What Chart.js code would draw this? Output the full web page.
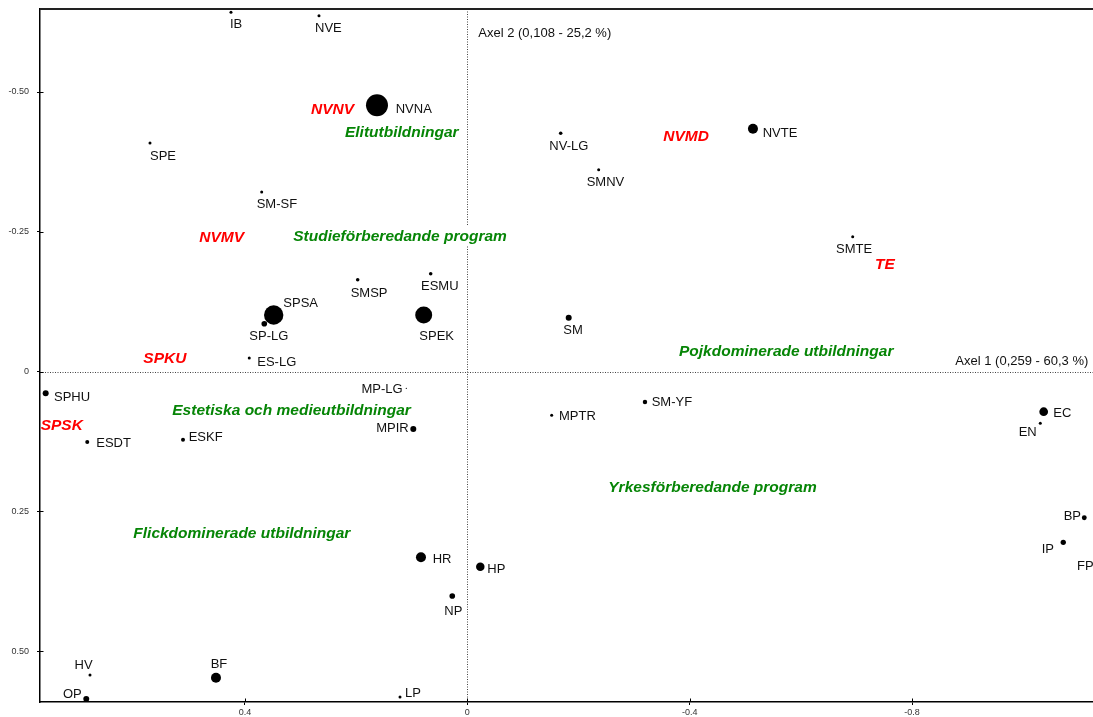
<!DOCTYPE html>
<html><head><meta charset="utf-8">
<script src="https://cdn.jsdelivr.net/npm/chart.js@4"></script>
<style>html,body{margin:0;padding:0;background:#fff;overflow:hidden}</style>
</head><body>
<canvas id="c" width="1093" height="717"></canvas>
<script>
// ---- data ----
const names  = ['IB','NVE','NVNA','SPE','SM-SF','SPSA','SP-LG','SMSP','ESMU','SPEK','ES-LG','SPHU','ESDT','ESKF','MP-LG','MPIR',
                'NV-LG','SMNV','NVTE','SMTE','SM','SM-YF','MPTR','EC','EN','BP','IP','FP','HR','HP','NP','HV','BF','OP','LP'];
const axis1  = [0.425,0.2667,0.1624,0.5707,0.3698,0.3482,0.3651,0.1971,0.0658,0.0784,0.3921,0.7583,0.6835,0.5113,0.1097,0.0971,
                -0.168,-0.2363,-0.5138,-0.6932,-0.1824,-0.3196,-0.1518,-1.0367,-1.0306,-1.1097,-1.0719,-1.1326,0.0833,-0.0234,0.027,0.6786,0.452,0.6853,0.121];
const axis2  = [-0.6426,-0.6365,-0.4762,-0.4088,-0.3211,-0.1011,-0.0855,-0.1642,-0.175,-0.1011,-0.0242,0.039,0.1261,0.122,0.030,0.1029,
                -0.4261,-0.361,-0.4343,-0.2411,-0.0962,0.0546,0.0784,0.0719,0.0927,0.2615,0.3055,0.3318,0.3324,0.3492,0.4016,0.5429,0.5478,0.5859,0.5823];
const masses = [2.25,2.25,121,2.25,2.25,94,8,3.2,3.2,72,2.25,9,4,4,0.4,9,
                3.2,2.25,25,2.25,9,5,2.25,19,2.25,6,7,7,25,18,8,2.25,25,9,2.25];

const xTicks = [0.4, 0, -0.4, -0.8];
const xTickLabels = ['0.4','0','-0.4','-0.8'];
const yTicks = [-0.5, -0.25, 0, 0.25, 0.5];
const yTickLabels = ['-0.50','-0.25','0','0.25','0.50'];

const groupNames = ['Elitutbildningar','Studieförberedande program','Pojkdominerade utbildningar','Estetiska och medieutbildningar',
                    'Flickdominerade utbildningar','Yrkesförberedande program','NVNV','NVMV','SPKU','SPSK','NVMD','TE'];
const groupX = [0.22,0.313,-0.3808,0.5306,0.6007,-0.2536,0.2811,0.482,0.5827,0.7673,-0.3525,-0.7333];
const groupY = [-0.4293,-0.2429,-0.0372,0.0671,0.2877,0.2061,-0.4708,-0.2411,-0.0247,0.0952,-0.4231,-0.1936];
const groupKind = ['type','type','type','type','type','type','prog','prog','prog','prog','prog','prog'];

const axisTitles = ['Axel 1 (0,259 - 60,3 %)', 'Axel 2 (0,108 - 25,2 %)'];

// ---- label placement (pixel offsets from the point, alignment) ----
const labelPlace = [
 [-1,11.5,'left'],[-4,11.3,'left'],[18.7,3,'left'],[0,12,'left'],[-5,11,'left'],[9.6,-12.3,'left'],[-15,12,'left'],
 [-7,12.3,'left'],[-9.7,11.6,'left'],[-4.4,20.7,'left'],[8,3,'left'],[8.3,2.7,'left'],[9,0.3,'left'],[5.7,-3.4,'left'],
 [-3.6,0,'right'],[-4.6,-1.3,'right'],
 [-11.4,12,'left'],[-12,11.6,'left'],[9.7,3.6,'left'],[-16.7,11.6,'left'],[-5.4,11.6,'left'],[6.7,-0.7,'left'],[7.3,0,'left'],
 [9.6,0.3,'left'],[-3.6,8,'right'],[-3.3,-2,'right'],[-9.3,6.4,'right'],[-3.4,8,'right'],[11.7,1,'left'],[7,1.6,'left'],
 [-8,14,'left'],[2.7,-10.7,'right'],[-5.3,-14.4,'left'],[-4.6,-5.7,'right'],[5,-4.7,'left']
];

const FONT = '"Liberation Sans", Arial, sans-serif';
const GROUP_FONT = 'italic bold 15.5px ' + FONT;
const LABEL_FONT = '13px ' + FONT;

function noPad(s) { s.paddingTop = 0; s.paddingBottom = 0; s.paddingLeft = 0; s.paddingRight = 0; }

const overlay = {
  id: 'overlay',
  beforeDatasetsDraw(chart) {
    const {ctx, chartArea: a, scales: {x, y}} = chart;
    const x0 = x.getPixelForValue(0), y0 = y.getPixelForValue(0);
    ctx.save();
    // dotted zero lines
    ctx.strokeStyle = '#444';
    ctx.lineWidth = 1;
    ctx.setLineDash([1, 1.5]);
    ctx.beginPath();
    ctx.moveTo(a.left, Math.round(y0) + 0.5); ctx.lineTo(a.right, Math.round(y0) + 0.5);
    ctx.moveTo(Math.round(x0) + 0.5, a.top); ctx.lineTo(Math.round(x0) + 0.5, a.bottom);
    ctx.stroke();
    ctx.setLineDash([]);
    // top frame line
    ctx.strokeStyle = '#222';
    ctx.lineWidth = 2;
    ctx.beginPath(); ctx.moveTo(a.left, a.top); ctx.lineTo(chart.width, a.top); ctx.stroke();
    // inner parts of tick marks
    ctx.strokeStyle = '#000'; ctx.lineWidth = 1;
    ctx.beginPath();
    xTicks.forEach(v => { const px = Math.round(x.getPixelForValue(v)) + 0.5; ctx.moveTo(px, a.bottom); ctx.lineTo(px, a.bottom - 3.5); });
    yTicks.forEach(v => { const py = Math.round(y.getPixelForValue(v)) + 0.5; ctx.moveTo(a.left, py); ctx.lineTo(a.left + 3.5, py); });
    ctx.stroke();
    // white boxes behind group texts
    ctx.font = GROUP_FONT;
    ctx.fillStyle = '#fff';
    groupNames.forEach((t, i) => {
      if (groupKind[i] !== 'type') return;
      const px = x.getPixelForValue(groupX[i]), py = y.getPixelForValue(groupY[i]);
      const w = ctx.measureText(t).width;
      ctx.fillRect(px - 3, py - 10, w + 6, 20);
    });
    ctx.restore();
  },
  afterDatasetsDraw(chart) {
    const {ctx, chartArea: a, scales: {x, y}} = chart;
    ctx.save();
    ctx.textBaseline = 'alphabetic';
    // point labels
    ctx.font = LABEL_FONT;
    ctx.fillStyle = '#111';
    names.forEach((n, i) => {
      const px = x.getPixelForValue(axis1[i]), py = y.getPixelForValue(axis2[i]);
      const [dx, dy, al] = labelPlace[i];
      ctx.textAlign = al;
      ctx.fillText(n, px + dx, py + dy + 13 * 0.358);
    });
    // group labels
    ctx.font = GROUP_FONT;
    ctx.textAlign = 'left';
    groupNames.forEach((t, i) => {
      ctx.fillStyle = groupKind[i] === 'type' ? '#068506' : '#ff0000';
      const px = x.getPixelForValue(groupX[i]), py = y.getPixelForValue(groupY[i]);
      ctx.fillText(t, px, py + 15.5 * 0.358);
    });
    // axis titles
    ctx.font = LABEL_FONT;
    ctx.fillStyle = '#111';
    const x0 = x.getPixelForValue(0), y0 = y.getPixelForValue(0);
    ctx.textAlign = 'right';
    ctx.fillText(axisTitles[0], a.right - 4.7, y0 - 11.5 + 13 * 0.358);
    ctx.textAlign = 'left';
    ctx.fillText(axisTitles[1], x0 + 11, a.top + 23.7 + 13 * 0.358);
    ctx.restore();
  }
};

new Chart(document.getElementById('c'), {
  type: 'scatter',
  data: {
    datasets: [{
      data: axis1.map((v, i) => ({x: v, y: axis2[i]})),
      pointRadius: masses.map(m => Math.sqrt(m)),
      pointHoverRadius: masses.map(m => Math.sqrt(m)),
      backgroundColor: '#000',
      borderWidth: 0,
      clip: 0
    }]
  },
  options: {
    responsive: false,
    animation: false,
    events: [],
    layout: {autoPadding: false, padding: {top: 9, right: 0, left: 0, bottom: 0}},
    plugins: {legend: {display: false}, tooltip: {enabled: false}},
    scales: {
      x: {
        type: 'linear', min: -1.1254, max: 0.7685, reverse: true,
        afterBuildTicks: s => { s.ticks = xTicks.map(v => ({value: v})); },
        afterFit: s => { s.height = 15; noPad(s); },
        grid: {display: true, drawOnChartArea: false, drawTicks: true, tickLength: 3, color: '#000', lineWidth: 1},
        border: {display: true, color: '#000', width: 1.5},
        ticks: {
          autoSkip: false, maxRotation: 0, padding: 2.5, color: '#333',
          font: {family: FONT, size: 9},
          callback: v => xTickLabels[xTicks.indexOf(v)]
        }
      },
      y: {
        type: 'linear', min: -0.6485, max: 0.5912, reverse: true,
        afterBuildTicks: s => { s.ticks = yTicks.map(v => ({value: v})); },
        afterFit: s => { s.width = 40; noPad(s); },
        grid: {display: true, drawOnChartArea: false, drawTicks: true, tickLength: 3, color: '#000', lineWidth: 1},
        border: {display: true, color: '#000', width: 1.5},
        ticks: {
          autoSkip: false, padding: 8, color: '#333',
          font: {family: FONT, size: 9},
          callback: v => yTickLabels[yTicks.indexOf(v)]
        }
      }
    }
  },
  plugins: [overlay]
});
</script>
</body></html>
